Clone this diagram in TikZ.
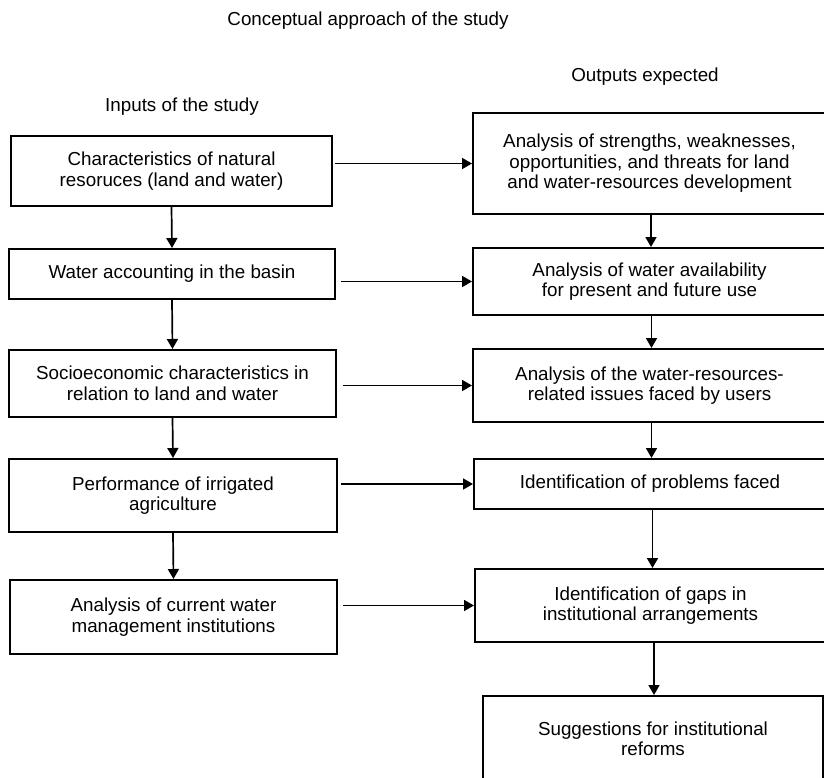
\documentclass[tikz,border=0pt]{standalone}
\usepackage{fontspec}
\setmainfont{Liberation Sans}
\usetikzlibrary{arrows.meta}
\newcommand\myfs{\fontsize{18.8}{20.5}\selectfont}
\begin{document}
\begin{tikzpicture}[x=1pt,y=-1pt,
  box/.style={draw, line width=2pt, inner sep=0pt, align=center, font=\myfs},
  lbl/.style={inner sep=0pt, align=center, font=\myfs},
  arr/.style={line width=1.7pt, -{Triangle[length=10pt,width=11pt]}}]
\useasboundingbox (0,0) rectangle (824,777);
\clip (0,0) rectangle (824,777);
\fill[white] (0,0) rectangle (824,777);
% titles
\node[lbl] (title) at (368,21) {Conceptual approach of the study};
\node[lbl] (inp) at (182,107) {Inputs of the study};
\node[lbl] (outp) at (645,77) {Outputs expected};
% left column
\node[box, minimum width=321pt, minimum height=70pt] (L1) at (171.5,171) {Characteristics of natural\\resoruces (land and water)};
\node[box, minimum width=326pt, minimum height=50pt] (L2) at (172,274) {Water accounting in the basin};
\node[box, minimum width=327pt, minimum height=67pt] (L3) at (172.5,383.5) {Socioeconomic characteristics in\\relation to land and water};
\node[box, minimum width=328pt, minimum height=73pt] (L4) at (173,495.5) {Performance of irrigated\\agriculture};
\node[box, minimum width=327pt, minimum height=74pt] (L5) at (173.5,617) {Analysis of current water\\management institutions};
% right column
\node[box, minimum width=353pt, minimum height=101pt] (R1) at (649.5,163.5) {Analysis of strengths, weaknesses,\\opportunities, and threats for land\\and water-resources development};
\node[box, minimum width=353pt, minimum height=67pt] (R2) at (649.5,281.5) {Analysis of water availability\\for present and future use};
\node[box, minimum width=353pt, minimum height=73pt] (R3) at (649.5,385.5) {Analysis of the water-resources-\\related issues faced by users};
\node[box, minimum width=352pt, minimum height=50pt] (R4) at (650,484) {Identification of problems faced};
\node[box, minimum width=351pt, minimum height=73pt] (R5) at (650.5,605.5) {Identification of gaps in\\institutional arrangements};
\node[box, minimum width=340pt, minimum height=86pt] (R6) at (653,739) {Suggestions for institutional\\reforms};
% vertical arrows
\draw[arr] (L1.south) -- (L2.north);
\draw[arr] (L2.south) -- (L3.north);
\draw[arr] (L3.south) -- (L4.north);
\draw[arr] (L4.south) -- (L5.north);
\draw[arr] ([xshift=1.5pt]R1.south) -- ([xshift=1.5pt]R1.south |- R2.north);
\draw[arr] ([xshift=2pt]R2.south) -- ([xshift=2pt]R2.south |- R3.north);
\draw[arr] ([xshift=2pt]R3.south) -- ([xshift=2pt]R3.south |- R4.north);
\draw[arr] ([xshift=2.5pt]R4.south) -- ([xshift=2.5pt]R4.south |- R5.north);
\draw[arr] ([xshift=3.5pt]R5.south) -- ([xshift=3.5pt]R5.south |- R6.north);
% horizontal arrows
\draw[arr] ([xshift=2pt]R1.west -| L1.east) -- (R1.west);
\draw[arr] ([xshift=5pt]R2.west -| L2.east) -- (R2.west);
\draw[arr] ([xshift=6pt]R3.west -| L3.east) -- (R3.west);
\draw[arr] ([xshift=3pt]R4.west -| L4.east) -- (R4.west);
\draw[arr] ([xshift=5pt]R5.west -| L5.east) -- (R5.west);
\end{tikzpicture}
\end{document}
